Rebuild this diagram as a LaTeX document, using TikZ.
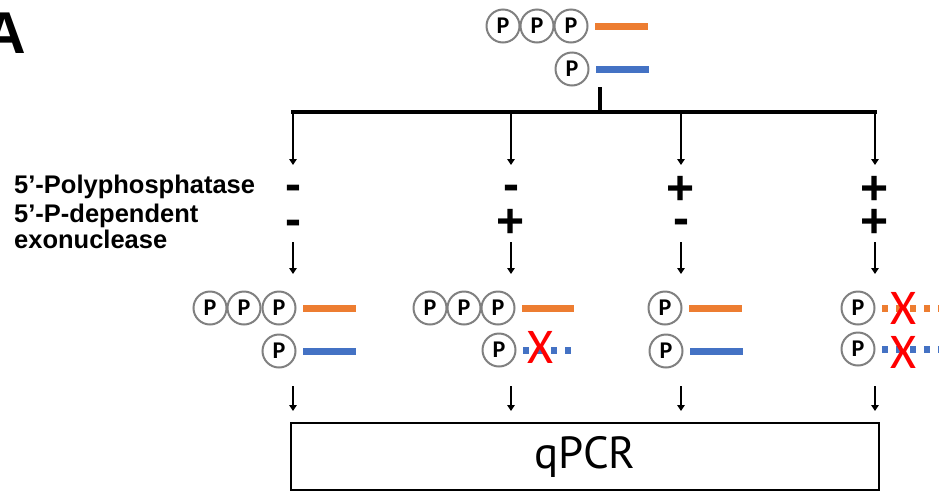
\documentclass[tikz,border=0pt]{standalone}
\usepackage{fontspec}
\setmainfont{Liberation Sans}
\newfontfamily\carl{Carlito}
\newfontfamily\ptsans{PT Sans}
\usetikzlibrary{arrows.meta}
\definecolor{strandorange}{HTML}{ED7D31}
\definecolor{strandblue}{HTML}{4472C4}
\definecolor{ringgray}{HTML}{808080}

\begin{document}
\begin{tikzpicture}[x=1pt,y=-1pt,
  phos/.style={circle, draw=ringgray, line width=2pt, fill=white, minimum size=33pt,
    inner sep=0pt, font=\carl\bfseries\fontsize{24}{24}\selectfont},
  rna/.style={line width=7pt},
  cut/.style={line width=7pt, dash pattern=on 6pt off 8pt},
  flow/.style={line width=2.7pt, -{Triangle[width=7.5pt,length=6pt]}},
  sign/.style={inner sep=0pt, anchor=base, font=\bfseries\fontsize{48}{48}\selectfont},
  lbl/.style={inner sep=0pt, anchor=base west, font=\bfseries\fontsize{25.5}{25.5}\selectfont},
  nuke/.style={inner sep=0pt, anchor=base, text=red, font=\carl\fontsize{50}{50}\selectfont},
]
\useasboundingbox (0,0) rectangle (939,491);

% panel letter
\node[anchor=base east, inner sep=0pt, font=\bfseries\fontsize{59}{59}\selectfont] (panel) at (26,53) {A};

% starting RNAs: triphosphorylated (orange) and monophosphorylated (blue)
\node[phos] (t1) at (503,26) {P};
\node[phos] (t2) at (537,26) {P};
\node[phos] (t3) at (571,26) {P};
\node[phos] (t4) at (572,69) {P};
\draw[rna, strandorange] ([xshift=6.5pt]t3.east) -- ++(53,0);
\draw[rna, strandblue] ([xshift=6.5pt]t4.east) -- ++(53,0);

% splitter into four treatments
\coordinate (stemtop) at (600,87);
\coordinate (hub) at (600,112);
\coordinate (barL) at (291,112);
\coordinate (barR) at (877,112);
\draw[line width=4pt] (stemtop) -- (hub);
\draw[line width=4pt] (barL) -- (barR);

\foreach \i/\x in {1/293, 2/511, 3/681, 4/875} {
  \coordinate (top\i) at (\x,110);
  \coordinate (a\i) at (\x,165);
  \coordinate (b\i) at (\x,242);
  \coordinate (c\i) at (\x,274);
  \coordinate (d\i) at (\x,386);
  \coordinate (e\i) at (\x,411);
  \draw[flow] (top\i) -- (a\i);
  \draw[flow] (b\i) -- (c\i);
  \draw[flow] (d\i) -- (e\i);
}

% treatment labels
\node[lbl] (enz1) at (14,193) {5’-Polyphosphatase};
\node[lbl] (enz2a) at (14,222) {5’-P-dependent};
\node[lbl] (enz2b) at (14,248) {exonuclease};

\node[sign] (s11) at (293,200.5) {-};
\node[sign] (s12) at (293,235.5) {-};
\node[sign] (s21) at (511,200) {-};
\node[sign] (s22) at (511,237) {+};
\node[sign] (s31) at (681,204) {+};
\node[sign] (s32) at (681,234) {-};
\node[sign] (s41) at (875,204) {+};
\node[sign] (s42) at (875,237) {+};

% column 1: no treatment
\node[phos] (p11) at (210,308) {P};
\node[phos] (p12) at (244,308) {P};
\node[phos] (p13) at (279,308) {P};
\node[phos] (p14) at (279,351) {P};
\draw[rna, strandorange] ([xshift=6.5pt]p13.east) -- ++(53,0);
\draw[rna, strandblue] ([xshift=6.5pt]p14.east) -- ++(53,0);

% column 2: exonuclease only
\node[phos] (p21) at (430,308) {P};
\node[phos] (p22) at (464,308) {P};
\node[phos] (p23) at (498,308) {P};
\node[phos] (p24) at (499,350) {P};
\draw[rna, strandorange] ([xshift=6.5pt]p23.east) -- ++(52,0);
\draw[cut, strandblue] ([xshift=6.5pt]p24.east) -- ++(52,0);
\node[nuke] (x2) at (540,363) {X};

% column 3: polyphosphatase only
\node[phos] (p31) at (665,308) {P};
\node[phos] (p32) at (666,351) {P};
\draw[rna, strandorange] ([xshift=6.5pt]p31.east) -- ++(53,0);
\draw[rna, strandblue] ([xshift=6.5pt]p32.east) -- ++(53,0);

% column 4: both enzymes
\node[phos] (p41) at (858,308) {P};
\node[phos] (p42) at (858,349) {P};
\draw[cut, strandorange] ([xshift=6.5pt]p41.east) -- ++(60,0);
\draw[cut, strandblue] ([xshift=6.5pt]p42.east) -- ++(60,0);
\node[nuke] (x41) at (903,324) {X};
\node[nuke] (x42) at (903,368) {X};

% readout
\node[draw, line width=2pt, minimum width=588pt, minimum height=67pt, inner sep=0pt,
  font=\ptsans\fontsize{45}{45}\selectfont] (qpcr) at (585,456.5) {\raisebox{-4pt}{qPCR}};
\end{tikzpicture}
\end{document}
